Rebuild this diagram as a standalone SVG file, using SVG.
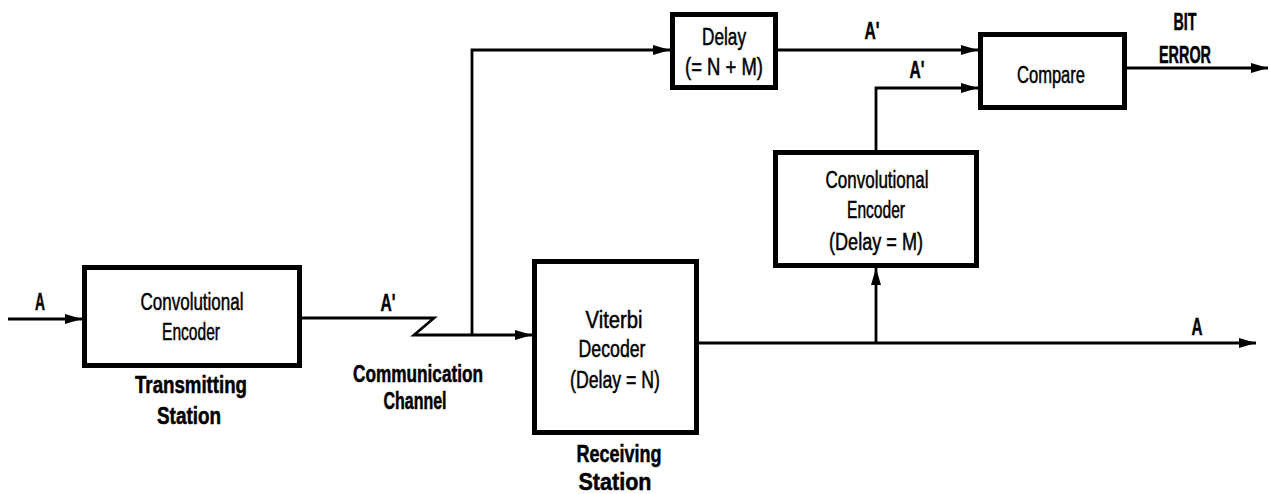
<svg xmlns="http://www.w3.org/2000/svg" width="1270" height="494" viewBox="0 0 1270 494">
<style>
.box{fill:#fff;stroke:#000;stroke-width:5}
.ln{fill:none;stroke:#000;stroke-width:2.8}
.t{font-family:"Liberation Sans",Arial,sans-serif;font-size:23px;text-anchor:middle;fill:#000;stroke:#000;stroke-width:0.5}
.b{font-family:"Liberation Sans",Arial,sans-serif;font-size:23px;font-weight:bold;text-anchor:middle;fill:#000;stroke:#000;stroke-width:0.5}
</style>
<defs>
<marker id="ah" markerUnits="userSpaceOnUse" markerWidth="17" markerHeight="12" refX="17" refY="6" orient="auto">
<path d="M0,1 L17,6 L0,11 Z" fill="#000"/>
</marker>
</defs>
<g id="connectors">
<path class="ln" d="M8,319 H82" marker-end="url(#ah)"/>
<path class="ln" d="M302,318 H434 L414,335 H532" marker-end="url(#ah)"/>
<path class="ln" d="M472,335 V50 H670" marker-end="url(#ah)"/>
<path class="ln" d="M778,50 H978" marker-end="url(#ah)"/>
<path class="ln" d="M699,343 H1256" marker-end="url(#ah)"/>
<path class="ln" d="M876,343 V268" marker-end="url(#ah)"/>
<path class="ln" d="M876,150 V88 H978" marker-end="url(#ah)"/>
<path class="ln" d="M1127,68 H1268" marker-end="url(#ah)"/>
</g>
<g id="labels">
<text class="b" x="40" y="310" textLength="10" lengthAdjust="spacingAndGlyphs">A</text>
<text class="b" x="388" y="311" textLength="15" lengthAdjust="spacingAndGlyphs">A'</text>
<text class="b" x="872" y="39" textLength="15" lengthAdjust="spacingAndGlyphs">A'</text>
<text class="b" x="917" y="78" textLength="15" lengthAdjust="spacingAndGlyphs">A'</text>
<text class="b" x="1197" y="335" textLength="11" lengthAdjust="spacingAndGlyphs">A</text>
<text class="b" x="1185" y="30" textLength="23" lengthAdjust="spacingAndGlyphs">BIT</text>
<text class="b" x="1185" y="63" textLength="52" lengthAdjust="spacingAndGlyphs">ERROR</text>
<text class="b" x="418" y="382" textLength="130" lengthAdjust="spacingAndGlyphs">Communication</text>
<text class="b" x="415" y="409" textLength="63" lengthAdjust="spacingAndGlyphs">Channel</text>
</g>
<g id="tx">
<rect class="box" x="84.5" y="267.5" width="215" height="98"/>
<text class="t" x="192" y="310" textLength="103" lengthAdjust="spacingAndGlyphs">Convolutional</text>
<text class="t" x="191" y="340" textLength="58" lengthAdjust="spacingAndGlyphs">Encoder</text>
<text class="b" x="191" y="393" textLength="112" lengthAdjust="spacingAndGlyphs">Transmitting</text>
<text class="b" x="189" y="424" textLength="64" lengthAdjust="spacingAndGlyphs">Station</text>
</g>
<g id="viterbi">
<rect class="box" x="534.5" y="261.5" width="162" height="171"/>
<text class="t" x="614" y="328" textLength="57" lengthAdjust="spacingAndGlyphs">Viterbi</text>
<text class="t" x="612" y="357" textLength="67" lengthAdjust="spacingAndGlyphs">Decoder</text>
<text class="t" x="615" y="388" textLength="90" lengthAdjust="spacingAndGlyphs">(Delay = N)</text>
<text class="b" x="619" y="462" textLength="85" lengthAdjust="spacingAndGlyphs">Receiving</text>
<text class="b" x="615" y="490" textLength="73" lengthAdjust="spacingAndGlyphs">Station</text>
</g>
<g id="delay">
<rect class="box" x="672.5" y="14.5" width="103" height="73"/>
<text class="t" x="724" y="45" textLength="44" lengthAdjust="spacingAndGlyphs">Delay</text>
<text class="t" x="724" y="75" textLength="78" lengthAdjust="spacingAndGlyphs">(= N + M)</text>
</g>
<g id="compare">
<rect class="box" x="980.5" y="34.5" width="144" height="73"/>
<text class="t" x="1051" y="83" textLength="68" lengthAdjust="spacingAndGlyphs">Compare</text>
</g>
<g id="encoder2">
<rect class="box" x="775.5" y="152.5" width="201" height="113"/>
<text class="t" x="877" y="188" textLength="103" lengthAdjust="spacingAndGlyphs">Convolutional</text>
<text class="t" x="876" y="218" textLength="58" lengthAdjust="spacingAndGlyphs">Encoder</text>
<text class="t" x="876" y="250" textLength="94" lengthAdjust="spacingAndGlyphs">(Delay = M)</text>
</g>
</svg>
